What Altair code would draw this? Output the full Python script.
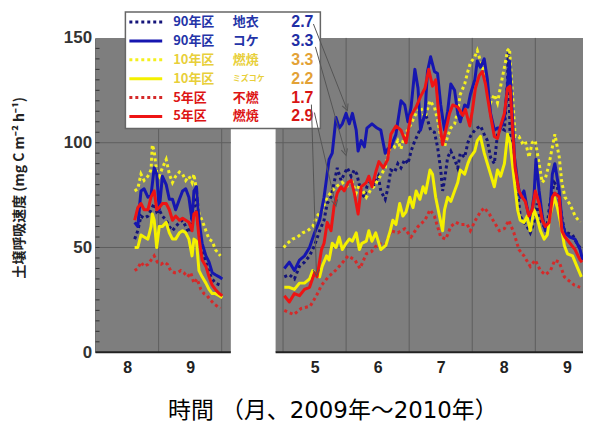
import math
import altair as alt
import pandas as pd

# ===================== data =====================
# x: month as a decimal (8.0 = 1 August, 8.5 = mid-August); y: mg C m-2 h-1

# ---- 2009 panel (August - September) ----
lichen90_2009_x = [8.62, 8.67, 8.72, 8.77, 8.83, 8.88, 8.93, 8.97, 9.01, 9.06, 9.12, 9.17, 9.22, 9.27, 9.33, 9.38, 9.43, 9.48, 9.53, 9.56, 9.60, 9.64, 9.69, 9.75, 9.80, 9.85, 9.90, 9.98]
lichen90_2009_y = [54, 58, 65, 64, 65, 68, 71, 67, 68, 65, 63, 60, 58, 60, 62, 63, 60, 57, 65, 74, 69, 58, 49, 43, 38, 35, 33, 32]
moss90_2009_x = [8.62, 8.67, 8.72, 8.77, 8.83, 8.88, 8.93, 8.97, 9.01, 9.06, 9.12, 9.17, 9.22, 9.27, 9.33, 9.38, 9.43, 9.48, 9.53, 9.56, 9.60, 9.64, 9.69, 9.75, 9.80, 9.85, 9.90, 9.96, 10.01]
moss90_2009_y = [62, 60, 77, 78, 74, 75, 88, 85, 68, 84, 80, 73, 73, 68, 73, 77, 78, 74, 63, 77, 79, 63, 52, 46, 43, 38, 37, 36, 35]
burn10_2009_x = [8.62, 8.67, 8.72, 8.77, 8.83, 8.88, 8.90, 8.93, 8.97, 9.01, 9.06, 9.12, 9.17, 9.22, 9.27, 9.33, 9.38, 9.43, 9.48, 9.53, 9.56, 9.60, 9.64, 9.69, 9.75, 9.80, 9.85, 9.90, 9.98]
burn10_2009_y = [77, 78, 85, 82, 84, 87, 99, 96, 86, 84, 88, 92, 85, 81, 84, 86, 85, 82, 84, 81, 85, 77, 66, 63, 58, 54, 53, 49, 46]
sphag10_2009_x = [8.62, 8.67, 8.72, 8.77, 8.83, 8.88, 8.90, 8.93, 8.97, 9.01, 9.06, 9.12, 9.17, 9.22, 9.27, 9.33, 9.38, 9.43, 9.48, 9.53, 9.56, 9.60, 9.64, 9.69, 9.75, 9.80, 9.85, 9.90, 9.96, 10.01]
sphag10_2009_y = [50, 50, 56, 55, 54, 60, 66, 63, 50, 60, 60, 62, 57, 54, 54, 57, 58, 57, 54, 46, 54, 53, 39, 36, 33, 30, 28, 28, 27, 26]
unburn5_2009_x = [8.62, 8.67, 8.72, 8.77, 8.83, 8.88, 8.93, 8.98, 9.04, 9.09, 9.14, 9.19, 9.25, 9.30, 9.35, 9.40, 9.46, 9.51, 9.56, 9.61, 9.67, 9.72, 9.77, 9.82, 9.88, 9.93, 9.98]
unburn5_2009_y = [39, 40, 43, 41, 42, 44, 46, 43, 42, 43, 42, 39, 38, 38, 39, 38, 36, 38, 33, 35, 30, 28, 27, 25, 23, 22, 21]
burn5_2009_x = [8.62, 8.67, 8.72, 8.77, 8.83, 8.88, 8.93, 8.97, 9.01, 9.06, 9.12, 9.17, 9.22, 9.27, 9.33, 9.38, 9.43, 9.48, 9.53, 9.56, 9.60, 9.64, 9.69, 9.75, 9.80, 9.85, 9.90, 9.96, 10.01]
burn5_2009_y = [63, 69, 71, 68, 68, 74, 77, 68, 69, 71, 71, 68, 63, 65, 63, 64, 63, 62, 58, 66, 67, 55, 44, 41, 36, 32, 30, 28, 27]

# ---- 2010 panel (May - September) ----
lichen90_2010_x = [5.02, 5.10, 5.18, 5.26, 5.34, 5.42, 5.50, 5.58, 5.65, 5.70, 5.76, 5.81, 5.86, 5.92, 5.97, 6.02, 6.08, 6.13, 6.17, 6.24,
                   6.29, 6.33, 6.40, 6.44, 6.51, 6.55, 6.62, 6.66, 6.71, 6.77, 6.82, 6.87, 6.93, 6.98, 7.03, 7.09, 7.14, 7.18, 7.25, 7.29,
                   7.34, 7.40, 7.45, 7.50, 7.53, 7.56, 7.61, 7.66, 7.72, 7.77, 7.81, 7.88, 7.93, 7.97, 8.04, 8.08, 8.13, 8.19, 8.24, 8.29,
                   8.35, 8.40, 8.45, 8.51, 8.56, 8.57, 8.60, 8.67, 8.72, 8.76, 8.82, 8.87, 8.92, 8.98, 9.03, 9.08, 9.14, 9.19, 9.23, 9.30,
                   9.35, 9.40, 9.46, 9.51, 9.59, 9.66, 9.73]
lichen90_2010_y = [36, 37, 35, 41, 43, 46, 51, 58, 63, 71, 74, 81, 88, 82, 85, 88, 84, 87, 85, 76,
                   74, 79, 82, 80, 84, 77, 73, 78, 87, 86, 90, 88, 92, 90, 96, 101, 104, 107, 114, 111,
                   106, 105, 98, 87, 77, 82, 93, 96, 92, 88, 95, 93, 100, 103, 106, 107, 108, 104, 101, 93,
                   90, 104, 107, 106, 130, 143, 103, 87, 77, 65, 62, 60, 57, 62, 71, 63, 60, 61, 71, 81,
                   79, 68, 58, 57, 56, 52, 49]
moss90_2010_x = [5.02, 5.10, 5.18, 5.26, 5.34, 5.42, 5.50, 5.58, 5.65, 5.73, 5.78, 5.84, 5.89, 5.94, 6.00, 6.05, 6.10, 6.16, 6.19, 6.24,
                 6.29, 6.33, 6.41, 6.49, 6.55, 6.62, 6.66, 6.71, 6.79, 6.87, 6.93, 6.98, 7.03, 7.09, 7.14, 7.18, 7.25, 7.29, 7.34, 7.40,
                 7.45, 7.50, 7.56, 7.61, 7.66, 7.72, 7.77, 7.81, 7.88, 7.93, 7.97, 8.04, 8.08, 8.13, 8.19, 8.24, 8.29, 8.35, 8.40, 8.45,
                 8.51, 8.56, 8.59, 8.62, 8.67, 8.72, 8.76, 8.82, 8.87, 8.92, 8.98, 9.01, 9.06, 9.11, 9.16, 9.22, 9.27, 9.31, 9.38, 9.42,
                 9.47, 9.55, 9.63, 9.71, 9.75]
moss90_2010_y = [40, 43, 39, 44, 46, 50, 57, 63, 74, 92, 95, 112, 107, 109, 114, 109, 114, 106, 96, 101,
                 98, 107, 109, 107, 106, 95, 97, 98, 104, 120, 118, 110, 117, 135, 126, 106, 114, 134, 141, 134,
                 133, 118, 106, 115, 128, 125, 114, 110, 118, 117, 123, 130, 139, 136, 140, 130, 114, 106, 107, 107,
                 112, 128, 139, 122, 93, 81, 74, 77, 69, 62, 75, 92, 77, 65, 58, 62, 85, 90, 77, 63,
                 57, 55, 54, 49, 44]
burn10_2010_x = [5.01, 5.07, 5.15, 5.23, 5.31, 5.39, 5.47, 5.54, 5.62, 5.70, 5.78, 5.84, 5.89, 5.94, 6.00, 6.05, 6.10, 6.16, 6.21, 6.25,
                 6.32, 6.40, 6.44, 6.52, 6.62, 6.71, 6.77, 6.82, 6.87, 6.93, 6.98, 7.03, 7.11, 7.18, 7.25, 7.33, 7.40, 7.45, 7.50, 7.56,
                 7.61, 7.66, 7.72, 7.77, 7.81, 7.88, 7.93, 7.97, 8.04, 8.08, 8.13, 8.19, 8.24, 8.29, 8.35, 8.40, 8.45, 8.51, 8.56, 8.59,
                 8.64, 8.68, 8.74, 8.79, 8.84, 8.90, 8.95, 9.00, 9.06, 9.11, 9.16, 9.22, 9.27, 9.31, 9.38, 9.42, 9.47, 9.54, 9.59, 9.63,
                 9.71]
burn10_2010_y = [50, 52, 54, 55, 57, 58, 60, 65, 68, 74, 77, 79, 80, 81, 79, 80, 81, 76, 80, 78,
                 74, 78, 79, 83, 88, 100, 98, 101, 97, 104, 106, 109, 114, 117, 112, 120, 117, 111, 103, 98,
                 103, 107, 109, 115, 123, 128, 134, 138, 141, 144, 139, 133, 125, 119, 123, 119, 127, 136, 144, 145,
                 122, 103, 103, 100, 101, 93, 100, 101, 90, 81, 83, 90, 98, 104, 93, 81, 74, 71, 68, 65,
                 62]
sphag10_2010_x = [5.02, 5.10, 5.18, 5.26, 5.34, 5.42, 5.47, 5.53, 5.58, 5.62, 5.69, 5.73, 5.78, 5.84, 5.89, 5.94, 6.00, 6.05, 6.10, 6.16,
                  6.21, 6.25, 6.32, 6.36, 6.41, 6.47, 6.52, 6.55, 6.63, 6.70, 6.74, 6.79, 6.85, 6.90, 6.95, 7.01, 7.06, 7.11, 7.17, 7.22,
                  7.26, 7.33, 7.37, 7.42, 7.48, 7.53, 7.56, 7.61, 7.66, 7.72, 7.77, 7.81, 7.88, 7.93, 7.97, 8.04, 8.08, 8.13, 8.19, 8.24,
                  8.29, 8.35, 8.40, 8.45, 8.51, 8.56, 8.60, 8.67, 8.72, 8.76, 8.82, 8.87, 8.92, 8.98, 9.03, 9.08, 9.14, 9.19, 9.23, 9.30,
                  9.35, 9.40, 9.46, 9.51, 9.59, 9.66, 9.73]
sphag10_2010_y = [31, 31, 30, 33, 33, 35, 39, 37, 36, 41, 46, 44, 52, 50, 55, 49, 52, 54, 53, 57,
                  49, 52, 53, 58, 53, 57, 52, 49, 51, 58, 63, 61, 71, 65, 67, 74, 69, 77, 73, 79,
                  76, 87, 85, 74, 65, 58, 68, 74, 72, 77, 81, 87, 85, 90, 93, 96, 101, 103, 95, 90,
                  85, 79, 87, 84, 90, 104, 100, 81, 68, 63, 62, 65, 58, 68, 64, 58, 54, 56, 65, 74,
                  69, 62, 51, 47, 46, 41, 36]
unburn5_2010_x = [5.02, 5.17, 5.29, 5.43, 5.53, 5.61, 5.72, 5.83, 5.92, 6.03, 6.14, 6.22, 6.32, 6.40, 6.51, 6.62, 6.71, 6.82, 6.93, 7.03,
                  7.14, 7.25, 7.33, 7.40, 7.45, 7.50, 7.58, 7.66, 7.74, 7.81, 7.92, 7.97, 8.05, 8.13, 8.19, 8.27, 8.35, 8.43, 8.51, 8.58,
                  8.66, 8.74, 8.82, 8.92, 9.00, 9.08, 9.16, 9.24, 9.31, 9.38, 9.46, 9.54, 9.62, 9.71]
unburn5_2010_y = [20, 18, 21, 22, 27, 32, 36, 39, 42, 46, 44, 40, 47, 48, 52, 51, 58, 57, 59, 55,
                  60, 63, 68, 65, 60, 55, 54, 60, 62, 61, 61, 58, 63, 67, 69, 66, 62, 58, 59, 63,
                  57, 49, 46, 41, 44, 39, 37, 39, 44, 43, 36, 34, 32, 31]
burn5_2010_x = [5.02, 5.10, 5.18, 5.26, 5.34, 5.42, 5.50, 5.54, 5.61, 5.65, 5.70, 5.76, 5.81, 5.86, 5.92, 5.97, 6.03, 6.08, 6.13, 6.19,
                6.24, 6.32, 6.36, 6.41, 6.47, 6.52, 6.59, 6.66, 6.71, 6.79, 6.87, 6.95, 7.03, 7.11, 7.18, 7.25, 7.31, 7.37, 7.42, 7.48,
                7.53, 7.58, 7.64, 7.69, 7.77, 7.85, 7.89, 7.96, 8.00, 8.05, 8.11, 8.16, 8.21, 8.24, 8.29, 8.35, 8.40, 8.45, 8.51, 8.56,
                8.60, 8.64, 8.68, 8.74, 8.79, 8.84, 8.90, 8.95, 9.00, 9.06, 9.11, 9.16, 9.22, 9.27, 9.31, 9.38, 9.42, 9.47, 9.55, 9.63,
                9.71, 9.74]
burn5_2010_y = [27, 24, 28, 27, 30, 31, 38, 36, 49, 52, 62, 58, 70, 76, 79, 77, 81, 82, 76, 66,
                79, 81, 84, 79, 86, 91, 88, 92, 104, 108, 106, 100, 113, 117, 122, 126, 135, 127, 130, 110,
                99, 106, 114, 118, 117, 113, 116, 108, 115, 126, 132, 134, 128, 122, 113, 103, 102, 108, 114, 126,
                127, 106, 88, 77, 74, 72, 65, 68, 77, 71, 63, 60, 62, 74, 76, 74, 58, 55, 52, 49,
                44, 43]

# legend content
legend_keys = ["lichen90", "moss90", "burn10", "sphag10", "unburn5", "burn5"]
legend_site = ["90年区", "90年区", "10年区", "10年区", "5年区", "5年区"]
legend_kind = ["地衣", "コケ", "燃焼", "ミズコケ", "不燃", "燃焼"]
legend_rate = ["2.7", "3.3", "3.3", "2.2", "1.7", "2.9"]

# tick labels (months) per panel
label_months = {2009: [8, 9], 2010: [5, 6, 7, 8, 9]}
grid_months = {2009: [9, 10], 2010: [5, 6, 7, 8, 9]}
grid_values = [50, 100]

# ===================== layout / style =====================
W, H = 490, 316
X_MAX = 7.729            # plot width in month units (broken axis)
Y_MAX = 150
OFFSET = {2009: -8.0, 2010: -2.027}        # month -> position on broken axis
PANELS = {2009: (8.0, 10.145), 2010: (4.882, 9.756)}
ORIGIN = (96, 37)        # page position of the plot area's top-left corner

STYLE = {
    "unburn5":  dict(color="#d42a2a", dash=[3, 3]),
    "lichen90": dict(color="#14147a", dash=[3, 3]),
    "burn10":   dict(color="#f4f01e", dash=[3, 3]),
    "moss90":   dict(color="#1616b0", dash=None),
    "sphag10":  dict(color="#f4f000", dash=None),
    "burn5":    dict(color="#ee1414", dash=None),
}
TEXT_COLOR = {"lichen90": "#2434a8", "moss90": "#2434a8", "burn10": "#e8cf3a", "sphag10": "#e8cf3a",
              "unburn5": "#dd1515", "burn5": "#dd1515"}
NUM_COLOR = {"lichen90": "#1f2fa5", "moss90": "#1f2fa5", "burn10": "#e3a236", "sphag10": "#e3a236",
             "unburn5": "#d81515", "burn5": "#d81515"}
KIND_SIZE = {"sphag10": 8}
LEGEND_ROW_Y = [21, 40, 59, 78, 97, 116]

PANEL_FILL = "#7e7e7e"
GRID_COLOR = "#5e5e5e"


def dx(page_x):
    return (page_x - ORIGIN[0]) / W * X_MAX


def dy(page_y):
    return Y_MAX - (page_y - ORIGIN[1]) / H * Y_MAX


# ===================== tables =====================
series = {
    "lichen90": {2009: (lichen90_2009_x, lichen90_2009_y), 2010: (lichen90_2010_x, lichen90_2010_y)},
    "moss90": {2009: (moss90_2009_x, moss90_2009_y), 2010: (moss90_2010_x, moss90_2010_y)},
    "burn10": {2009: (burn10_2009_x, burn10_2009_y), 2010: (burn10_2010_x, burn10_2010_y)},
    "sphag10": {2009: (sphag10_2009_x, sphag10_2009_y), 2010: (sphag10_2010_x, sphag10_2010_y)},
    "unburn5": {2009: (unburn5_2009_x, unburn5_2009_y), 2010: (unburn5_2010_x, unburn5_2010_y)},
    "burn5": {2009: (burn5_2009_x, burn5_2009_y), 2010: (burn5_2010_x, burn5_2010_y)},
}
rows = []
for key, per in series.items():
    for yr, (xs, ys) in per.items():
        assert len(xs) == len(ys), (key, yr, len(xs), len(ys))
        for m, v in zip(xs, ys):
            rows.append({"series": key, "panel": yr, "pos": m + OFFSET[yr], "value": v})
df = pd.DataFrame(rows)

panel_df = pd.DataFrame([{"panel": yr, "x0": a + OFFSET[yr], "x1": b + OFFSET[yr], "y0": 0, "y1": Y_MAX}
                         for yr, (a, b) in PANELS.items()])
vgrid_df = pd.DataFrame([{"pos": m + OFFSET[yr], "y0": 0, "y1": Y_MAX}
                         for yr, ms in grid_months.items() for m in ms])
hgrid_df = pd.DataFrame([{"x0": a + OFFSET[yr], "x1": b + OFFSET[yr], "v": g}
                         for yr, (a, b) in PANELS.items() for g in grid_values])
base_df = pd.DataFrame([{"x0": a + OFFSET[yr], "x1": b + OFFSET[yr], "v": 0}
                        for yr, (a, b) in PANELS.items()])
minor_df = pd.DataFrame({"v": list(range(5, 150, 5))})

label_list = [(m + 0.5 + OFFSET[yr], str(m)) for yr in (2009, 2010) for m in label_months[yr]]
label_expr = " : ".join(f"abs(datum.value - {p:.4f}) < 0.01 ? '{t}'" for p, t in label_list) + " : ''"

XS = alt.Scale(domain=[0, X_MAX], nice=False, zero=False)
YS = alt.Scale(domain=[0, Y_MAX], nice=False)
XA = alt.Axis(values=[p for p, _ in label_list], labelExpr=label_expr, grid=False, domain=False, ticks=False,
              labelFont="Liberation Sans", labelFontSize=16, labelFontWeight="bold", labelColor="#222",
              labelPadding=7, labelAngle=0,
              title="時間 （月、2009年～2010年）", titleFont="DejaVu Sans, Noto Sans CJK JP", titleFontSize=23,
              titleFontWeight="normal", titleColor="#000", titleX=238, titleY=59,
              titleAlign="center", titleBaseline="middle")
YA = alt.Axis(values=[0, 50, 100, 150], grid=False, ticks=False, domainColor="#222", domainWidth=1.5,
              labelFont="Liberation Sans", labelFontSize=17, labelFontWeight="bold", labelColor="#333",
              labelPadding=4,
              title="土壌呼吸速度 (mg C m⁻² h⁻¹)", titleFont="Noto Sans CJK JP", titleFontSize=14,
              titleFontWeight="bold", titleColor="#222", titleAngle=270, titleX=-76, titleY=150,
              titleAlign="center", titleBaseline="middle")


def X(f):
    return alt.X(f"{f}:Q", scale=XS, axis=XA)


def Y(f):
    return alt.Y(f"{f}:Q", scale=YS, axis=YA)


layers = []
layers.append(alt.Chart(panel_df).mark_rect(color=PANEL_FILL).encode(
    x=X("x0"), x2="x1:Q", y=Y("y0"), y2="y1:Q"))
layers.append(alt.Chart(vgrid_df).mark_rule(color=GRID_COLOR, strokeWidth=1).encode(
    x=X("pos"), y=Y("y0"), y2="y1:Q"))
layers.append(alt.Chart(hgrid_df).mark_rule(color=GRID_COLOR, strokeWidth=1).encode(
    x=X("x0"), x2="x1:Q", y=Y("v")))
layers.append(alt.Chart(minor_df).mark_rule(color="#333", strokeWidth=1).encode(
    x=alt.value(0), x2=alt.value(4), y=Y("v")))

for key in ["unburn5", "lichen90", "burn10", "moss90", "sphag10", "burn5"]:
    st = STYLE[key]
    kw = dict(color=st["color"], strokeWidth=3, strokeJoin="round")
    if st["dash"]:
        kw["strokeDash"] = st["dash"]
        kw["strokeJoin"] = "miter"
    layers.append(alt.Chart(df[df.series == key]).mark_line(**kw).encode(
        x=X("pos"), y=Y("value"), detail="panel:N"))

layers.append(alt.Chart(base_df).mark_rule(color="#222", strokeWidth=2).encode(
    x=X("x0"), x2="x1:Q", y=Y("v")))

# ---- legend box ----
box_df = pd.DataFrame([{"x0": dx(126), "x1": dx(322), "y0": dy(11), "y1": dy(128)}])
layers.append(alt.Chart(box_df).mark_rect(fill="white", stroke="#666", strokeWidth=1.5).encode(
    x=X("x0"), x2="x1:Q", y=Y("y0"), y2="y1:Q"))

leg = pd.DataFrame({
    "key": legend_keys, "site": legend_site, "kind": legend_kind, "rate": legend_rate,
    "y": [dy(v) for v in LEGEND_ROW_Y],
})
leg["tcolor"] = leg.key.map(TEXT_COLOR)
leg["ncolor"] = leg.key.map(NUM_COLOR)
leg["ksize"] = leg.key.map(lambda k: KIND_SIZE.get(k, 13))
leg["lx0"] = dx(130)
leg["lx1"] = dx(163)
leg["tx1"] = dx(174)
leg["tx2"] = dx(234)
leg["tx3"] = dx(315)

for key in legend_keys:
    st = STYLE[key]
    kw = dict(color=st["color"], strokeWidth=3)
    if st["dash"]:
        kw["strokeDash"] = st["dash"]
    layers.append(alt.Chart(leg[leg.key == key]).mark_rule(**kw).encode(
        x=X("lx0"), x2="lx1:Q", y=Y("y")))

layers.append(alt.Chart(leg).mark_text(align="left", baseline="middle", font="Noto Sans CJK JP",
                                       fontSize=13, fontWeight="bold").encode(
    x=X("tx1"), y=Y("y"), text="site:N", color=alt.Color("tcolor:N", scale=None)))
layers.append(alt.Chart(leg).mark_text(align="left", baseline="middle", font="Noto Sans CJK JP",
                                       fontWeight="bold").encode(
    x=X("tx2"), y=Y("y"), text="kind:N", color=alt.Color("tcolor:N", scale=None),
    size=alt.Size("ksize:Q", scale=None)))
layers.append(alt.Chart(leg).mark_text(align="right", baseline="middle", font="Liberation Sans",
                                       fontSize=16, fontWeight="bold").encode(
    x=X("tx3"), y=Y("y"), text="rate:N", color=alt.Color("ncolor:N", scale=None)))

# ---- arrows from the legend numbers to the curves ----
arrows_page = [((315, 23), (348, 107)), ((317, 46), (347, 152)),
               ((313, 104), (318, 273)), ((316, 112), (337, 203))]
arr = pd.DataFrame([{"x0": dx(a[0]), "y0": dy(a[1]), "x1": dx(b[0]), "y1": dy(b[1]),
                     "ang": math.degrees(math.atan2(b[0] - a[0], -(b[1] - a[1]))) % 360}
                    for a, b in arrows_page])
layers.append(alt.Chart(arr).mark_rule(color="#555", strokeWidth=1).encode(
    x=X("x0"), x2="x1:Q", y=Y("y0"), y2="y1:Q"))
layers.append(alt.Chart(arr).mark_point(shape="M-1,1L0,-1L1,1", filled=False, color="#555",
                                        strokeWidth=1, size=40, opacity=1).encode(
    x=X("x1"), y=Y("y1"), angle=alt.Angle("ang:Q", scale=None)))

chart = alt.layer(*layers).properties(
    width=W, height=H,
    padding={"left": 88, "top": 29, "right": 0, "bottom": 70},
    autosize=alt.AutoSizeParams(type="none"),
    background="white",
).configure_view(stroke=None)

chart.save("out.html", embed_options={"renderer": "svg", "actions": False})
